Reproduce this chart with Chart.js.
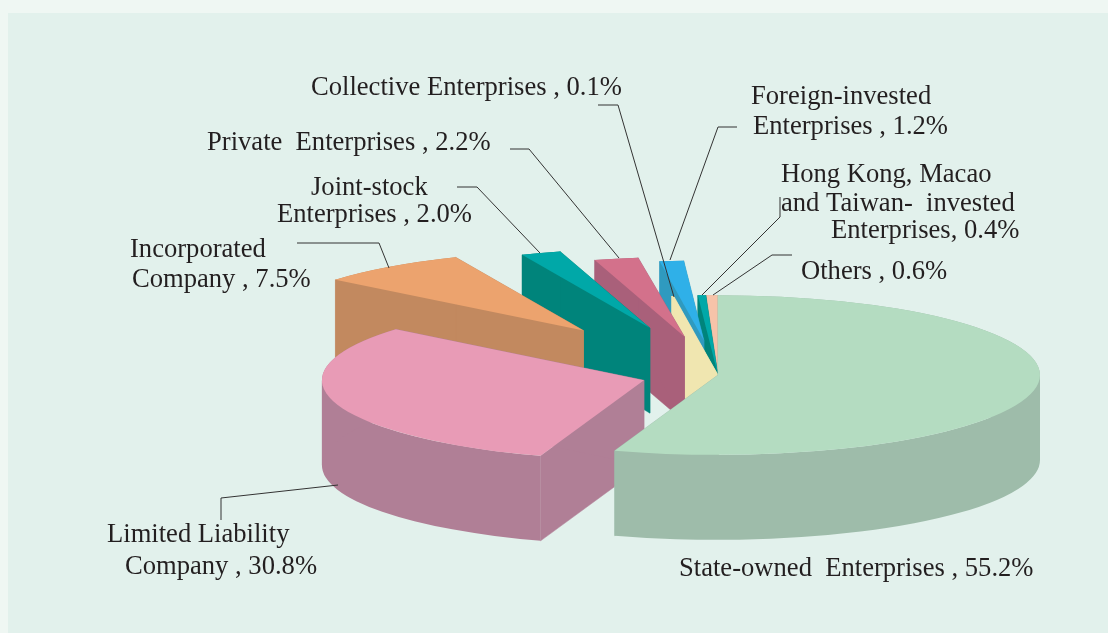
<!DOCTYPE html>
<html lang="en">
<head>
  <meta charset="UTF-8" />
  <title>Enterprises by ownership type</title>
  <script src="https://cdn.jsdelivr.net/npm/chart.js"></script>
  <style>
    html, body { margin: 0; padding: 0; background: #eff7f3; overflow: hidden; }
    .panel { position: absolute; left: 8px; top: 13px; right: 0; bottom: 0; background: #e2f1ec; }
    .chart-container { position: absolute; left: 0; top: 0; width: 1108px; height: 633px; }
  </style>
</head>
<body>
  <div class="panel"></div>
  <div class="chart-container"><canvas id="pieChart"></canvas></div>

  <script>
    const categories = [
      "State-owned Enterprises", "Limited Liability Company", "Incorporated Company",
      "Joint-stock Enterprises", "Private Enterprises", "Collective Enterprises",
      "Foreign-invested Enterprises", "Hong Kong, Macao and Taiwan-invested Enterprises", "Others"
    ];
    const shares = [55.2, 30.8, 7.5, 2.0, 2.2, 0.1, 1.2, 0.4, 0.6];

    // slice pull-out, colours
    const explode = [0, 77, 224, 201, 158, 0, 140, 0, 0];
    const topColors = ["#b4dcc1", "#e89bb6", "#eca36e", "#00a8a8", "#d3718b", "#f0e6b0", "#2fb0e8", "#00a8a8", "#f6c3a9"];
    const wallColors = ["#9ebcaa", "#b07f96", "#c2895f", "#00847b", "#a9607a", "#f0e6b0", "#2f9abf", "#00847b", "#d5a890"];

    // back to front
    const paintOrder = [8, 7, 6, 5, 4, 3, 2, 1, 0];

    const TILT = 0.248;
    const DEPTH = 85;

    // pie controller that paints its arcs as a tilted, extruded pie
    class Pie3dController extends Chart.PieController {
      draw() {
        const ctx = this.chart.ctx;
        const arcs = this._cachedMeta.data;
        paintOrder.forEach(i => {
          const arc = arcs[i];
          const r = arc.outerRadius;
          const mid = (arc.startAngle + arc.endAngle) / 2;
          const off = arc.options.offset || 0;
          const ax = arc.x + Math.cos(mid) * off;
          const ay = arc.y + Math.sin(mid) * off * TILT;
          const rim = a => [ax + Math.cos(a) * r, ay + Math.sin(a) * r * TILT];

          // the two cut faces, thin stroke hides the seam with the curved face
          ctx.fillStyle = wallColors[i];
          ctx.strokeStyle = wallColors[i];
          ctx.lineWidth = 0.5;
          [arc.startAngle, arc.endAngle].forEach(a => {
            const p = rim(a);
            ctx.beginPath();
            ctx.moveTo(ax, ay);
            ctx.lineTo(p[0], p[1]);
            ctx.lineTo(p[0], p[1] + DEPTH);
            ctx.lineTo(ax, ay + DEPTH);
            ctx.closePath();
            ctx.fill();
            ctx.stroke();
          });

          // curved outer face, split where the ellipse turns so the sides stay vertical
          const stops = [arc.startAngle, 0, Math.PI, arc.endAngle]
            .filter(a => a >= arc.startAngle && a <= arc.endAngle)
            .sort((a, b) => a - b);
          for (let s = 0; s < stops.length - 1; s++) {
            ctx.beginPath();
            ctx.ellipse(ax, ay, r, r * TILT, 0, stops[s], stops[s + 1]);
            ctx.ellipse(ax, ay + DEPTH, r, r * TILT, 0, stops[s + 1], stops[s], true);
            ctx.closePath();
            ctx.fill();
          }

          ctx.fillStyle = arc.options.backgroundColor;
          ctx.beginPath();
          ctx.moveTo(ax, ay);
          ctx.ellipse(ax, ay, r, r * TILT, 0, arc.startAngle, arc.endAngle);
          ctx.closePath();
          ctx.fill();
        });
      }
    }
    Pie3dController.id = "pie3d";
    Chart.register(Pie3dController);

    const calloutText = [
      { x: 311, y: 95, text: "Collective Enterprises , 0.1%" },
      { x: 751, y: 104, text: "Foreign-invested" },
      { x: 753, y: 134, text: "Enterprises , 1.2%" },
      { x: 781, y: 182, text: "Hong Kong, Macao" },
      { x: 781, y: 211, text: "and Taiwan-  invested" },
      { x: 831, y: 238, text: "Enterprises, 0.4%" },
      { x: 801, y: 279, text: "Others , 0.6%" },
      { x: 207, y: 150, text: "Private  Enterprises , 2.2%" },
      { x: 311, y: 195, text: "Joint-stock" },
      { x: 277, y: 222, text: "Enterprises , 2.0%" },
      { x: 130, y: 257, text: "Incorporated" },
      { x: 132, y: 287, text: "Company , 7.5%" },
      { x: 107, y: 542, text: "Limited Liability" },
      { x: 125, y: 574, text: "Company , 30.8%" },
      { x: 679, y: 576, text: "State-owned  Enterprises , 55.2%" }
    ];
    const leaderLines = [
      [[598, 105], [618, 105], [674, 297]],
      [[737, 127], [718, 127], [670, 260]],
      [[780, 197], [780, 217], [702, 295]],
      [[792, 255], [772, 255], [713, 295]],
      [[510, 149], [529, 149], [619, 258]],
      [[457, 187], [477, 187], [540, 253]],
      [[297, 243], [379, 243], [389, 268]],
      [[221, 520], [221, 498], [338, 485]]
    ];

    const calloutPlugin = {
      id: "callouts",
      afterDraw(chart) {
        const ctx = chart.ctx;
        ctx.save();
        ctx.strokeStyle = "#333333";
        ctx.lineWidth = 1;
        leaderLines.forEach(pts => {
          ctx.beginPath();
          pts.forEach((p, i) => i ? ctx.lineTo(p[0], p[1]) : ctx.moveTo(p[0], p[1]));
          ctx.stroke();
        });
        ctx.fillStyle = "#231f20";
        ctx.font = '26.6px "Liberation Serif"';
        ctx.textBaseline = "alphabetic";
        calloutText.forEach(t => ctx.fillText(t.text, t.x, t.y));
        ctx.restore();
      }
    };

    new Chart(document.getElementById("pieChart"), {
      type: "pie3d",
      data: {
        labels: categories,
        datasets: [{
          data: shares,
          backgroundColor: topColors,
          offset: explode,
          borderWidth: 0
        }]
      },
      options: {
        responsive: true,
        maintainAspectRatio: false,
        animation: false,
        radius: 322,
        layout: { padding: { left: 328, top: 117 } },
        plugins: { legend: { display: false }, tooltip: { enabled: false } }
      },
      plugins: [calloutPlugin]
    });
  </script>
</body>
</html>
